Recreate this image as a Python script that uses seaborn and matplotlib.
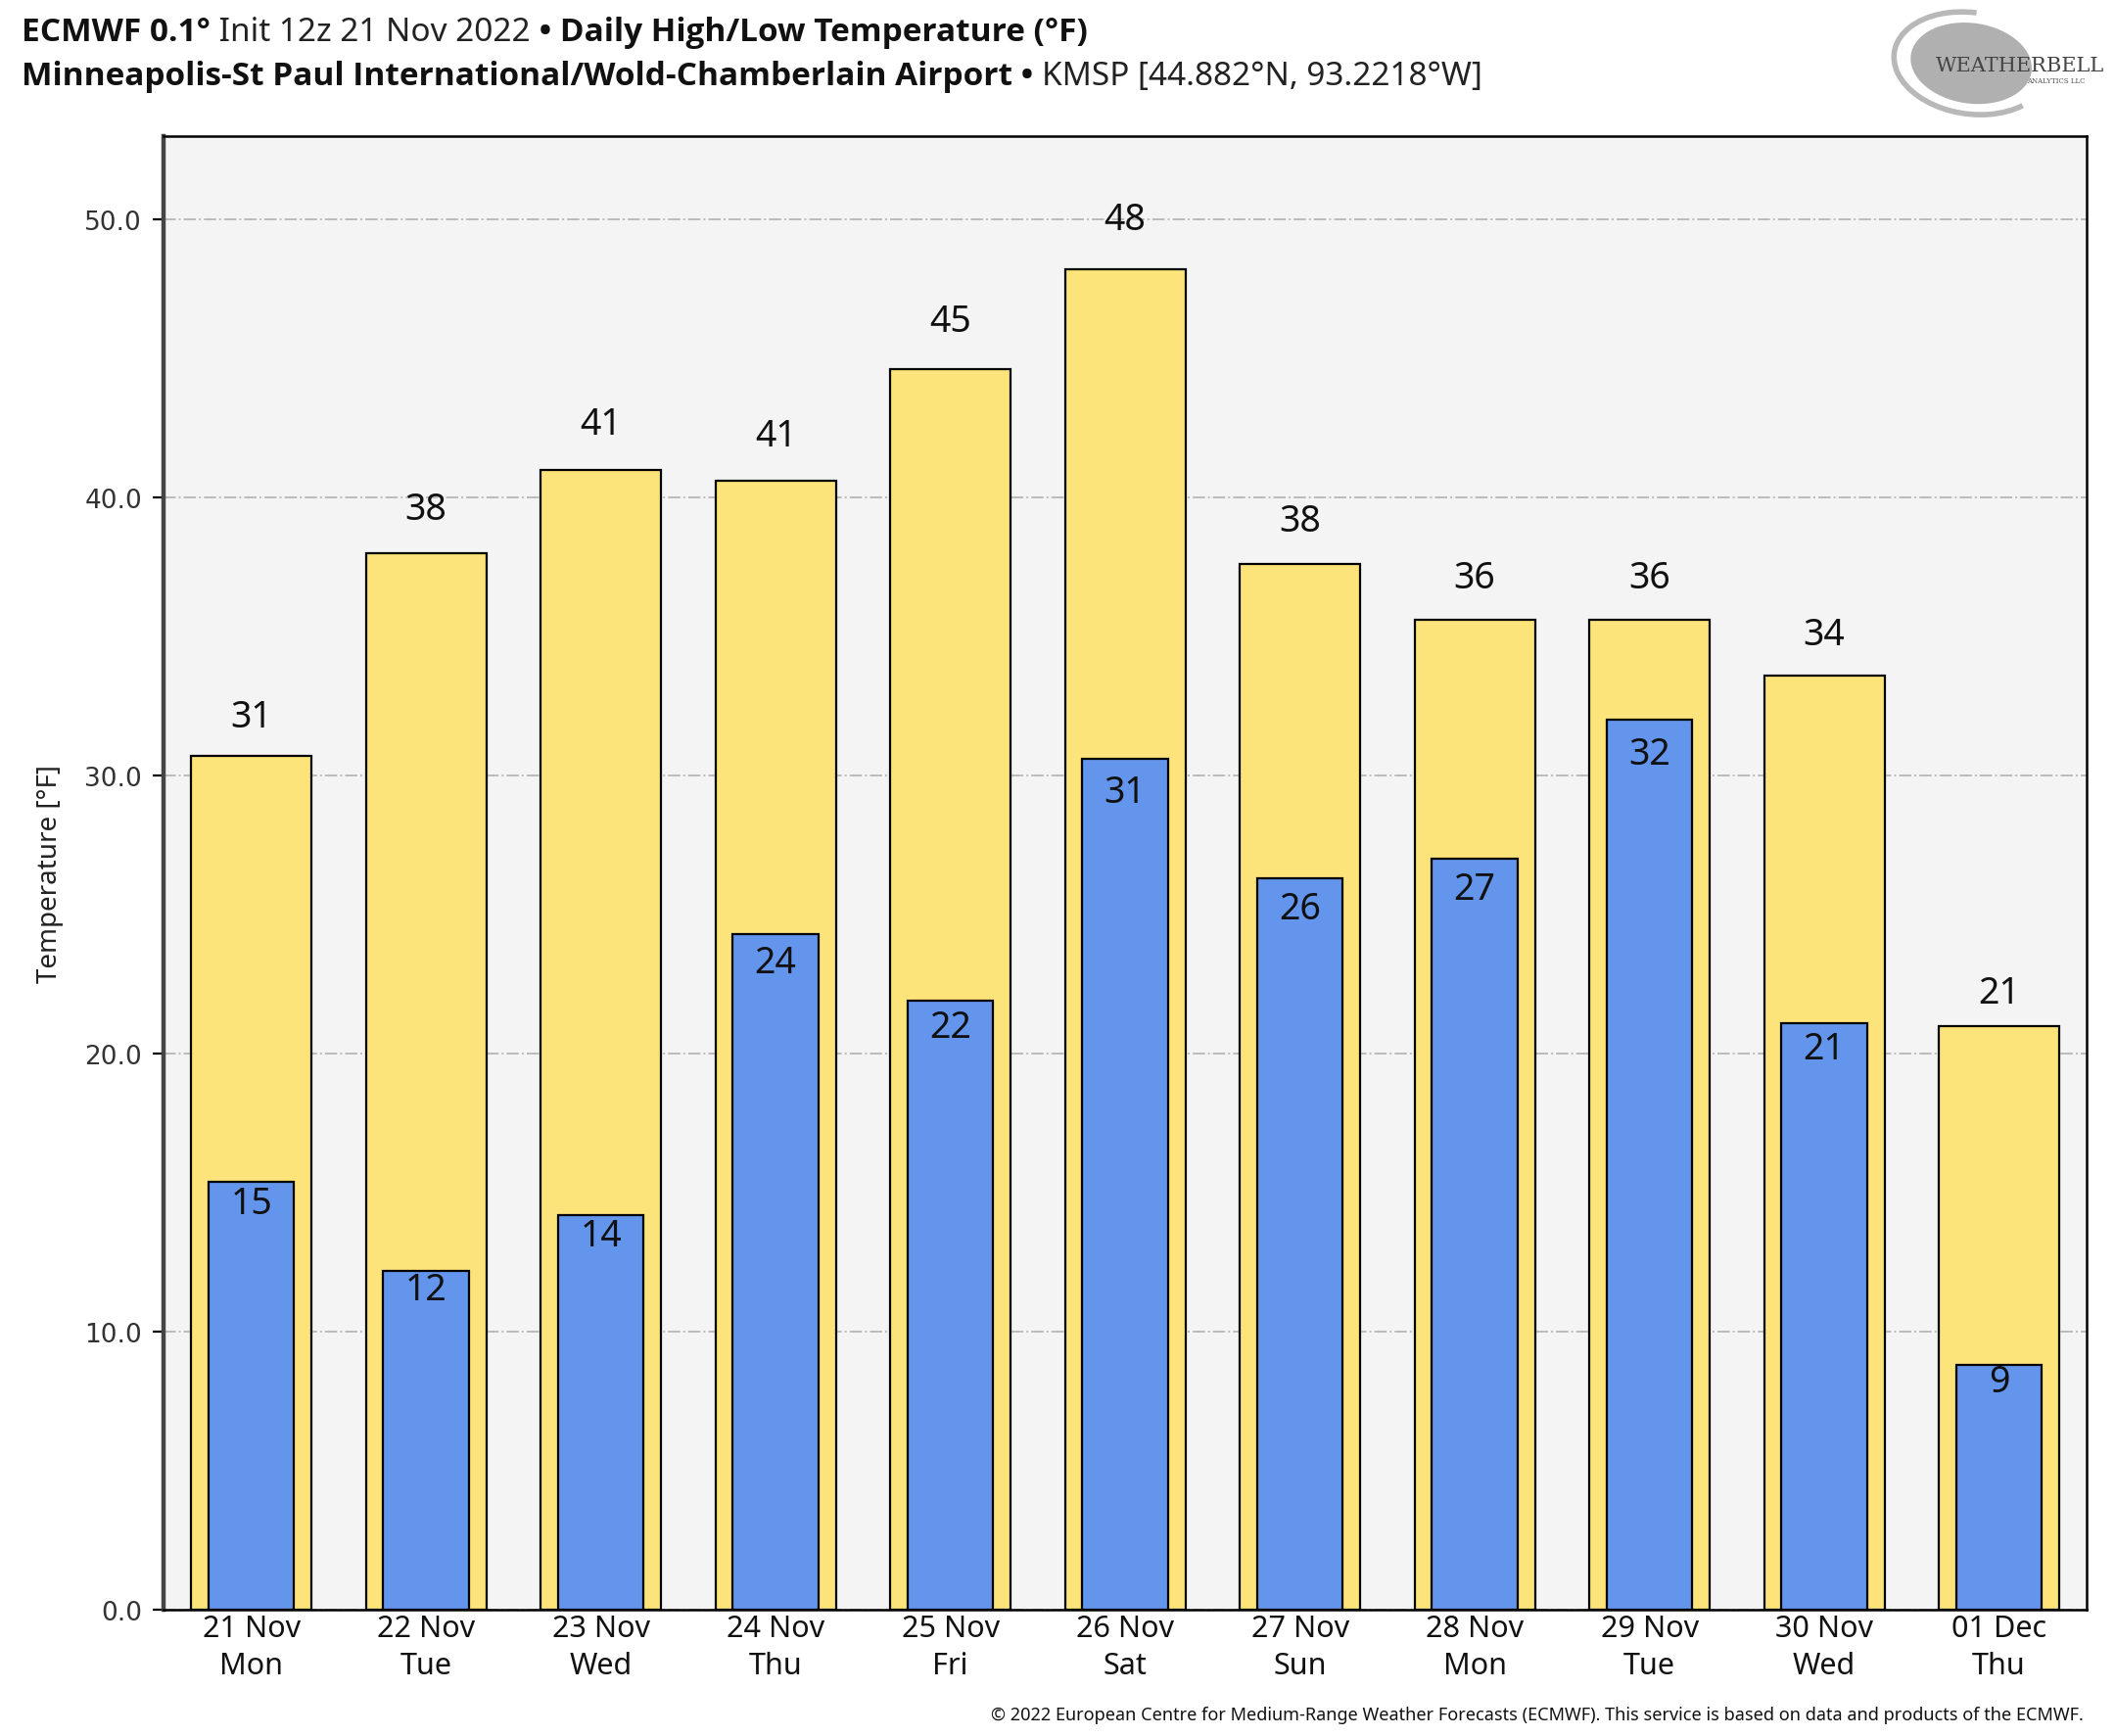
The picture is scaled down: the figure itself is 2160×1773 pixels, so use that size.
import matplotlib
matplotlib.use("Agg")
import matplotlib.pyplot as plt
from matplotlib import font_manager
from matplotlib.patches import Ellipse, Arc
import seaborn as sns
import pandas as pd

days = ["21 Nov\nMon", "22 Nov\nTue", "23 Nov\nWed", "24 Nov\nThu", "25 Nov\nFri",
        "26 Nov\nSat", "27 Nov\nSun", "28 Nov\nMon", "29 Nov\nTue", "30 Nov\nWed",
        "01 Dec\nThu"]
highs = [30.7, 38.0, 41.0, 40.6, 44.6, 48.2, 37.6, 35.6, 35.6, 33.6, 21.0]
lows = [15.4, 12.2, 14.2, 24.3, 21.9, 30.6, 26.3, 27.0, 32.0, 21.1, 8.8]
yticks = [0, 10, 20, 30, 40, 50]

HIGH_COLOR = "#FDE47A"
LOW_COLOR = "#6495ED"

df = pd.DataFrame({"day": days, "high": highs, "low": lows})

sns.set_theme(style="white")
plt.rcParams["font.family"] = ["Noto Sans", "DejaVu Sans"]

# pick a family that really has a bold face
bold_family = "DejaVu Sans"
for fam in ["Noto Sans", "Open Sans", "Lato", "Roboto", "Inter"]:
    found = False
    for f in font_manager.fontManager.ttflist:
        if f.name == fam and (f.weight in ("bold", 700) or str(f.weight) == "700"):
            found = True
            break
    if found:
        bold_family = fam
        break

fig = plt.figure(figsize=(10.8, 8.87), dpi=200)
ax = fig.add_axes([0.0775, 0.0726, 0.909, 0.8486])
ax.set_facecolor("#F4F4F4")

sns.barplot(data=df, x="day", y="high", order=days, color=HIGH_COLOR, width=0.69,
            edgecolor="black", linewidth=0.8, saturation=1, ax=ax, zorder=2)
sns.barplot(data=df, x="day", y="low", order=days, color=LOW_COLOR, width=0.49,
            edgecolor="black", linewidth=0.8, saturation=1, ax=ax, zorder=3)

for i, (h, l) in enumerate(zip(highs, lows)):
    ax.text(i, h * 1.022 + 0.74, f"{h:.0f}", ha="center", va="center",
            fontsize=13.5, color="#111111", zorder=5)
    ax.text(i, l * 0.973 - 0.36, f"{l:.0f}", ha="center", va="center",
            fontsize=13.5, color="#111111", zorder=5)

ax.set_xlim(-0.5, len(days) - 0.5)
ax.set_ylim(0, 53)
ax.set_yticks(yticks)
ax.set_yticklabels([f"{v:.1f}" for v in yticks], family="DejaVu Sans", fontsize=9.5,
                   color="#333333")
for lab in ax.get_xticklabels():
    lab.set_linespacing(1.35)
ax.grid(axis="y", color="#BBBBBB", linestyle="-.", linewidth=0.7, zorder=0)
ax.set_axisbelow(True)
ax.tick_params(axis="y", which="both", left=True, length=4, width=0.8, color="black", pad=4)
ax.tick_params(axis="x", bottom=False, length=0, labelsize=11, pad=1.5, labelcolor="#111111")
ax.set_xlabel("")
ax.set_ylabel("Temperature [°F]", fontsize=10, color="#222222")
ax.yaxis.set_label_coords(-0.052, 0.5)
for s in ax.spines.values():
    s.set_visible(True)
    s.set_color("black")
    s.set_linewidth(0.9)
ax.spines["left"].set_color("#444444")
ax.spines["left"].set_linewidth(1.6)

# title lines with mixed weights
renderer = fig.canvas.get_renderer()

def rich_line(x, y, pieces, size):
    for txt, weight, color in pieces:
        fam = bold_family if weight == "bold" else "Noto Sans"
        t = fig.text(x, y, txt, fontsize=size, fontweight=weight, color=color,
                     family=[fam, "DejaVu Sans"], ha="left", va="center")
        bb = t.get_window_extent(renderer)
        x = fig.transFigure.inverted().transform((bb.x1, bb.y0))[0]

rich_line(0.0103, 0.981, [("ECMWF 0.1°", "bold", "#111111"),
                          (" Init 12z 21 Nov 2022", "normal", "#222222"),
                          (" • Daily High/Low Temperature (°F)", "bold", "#111111")], 12)
rich_line(0.0103, 0.9555, [("Minneapolis-St Paul International/Wold-Chamberlain Airport", "bold", "#111111"),
                           (" • ", "bold", "#111111"),
                           ("KMSP [44.882°N, 93.2218°W]", "normal", "#222222")], 12)

fig.text(0.985, 0.0125, "© 2022 European Centre for Medium-Range Weather Forecasts (ECMWF). "
         "This service is based on data and products of the ECMWF.",
         ha="right", va="center", fontsize=6.5, color="#111111")

# logo
fig.patches.append(Ellipse((0.932, 0.963), 0.058, 0.046, angle=-15,
                           transform=fig.transFigure, facecolor="#A8A8A8",
                           edgecolor="none", alpha=0.9))
fig.patches.append(Arc((0.932, 0.963), 0.074, 0.058, angle=-15, theta1=100, theta2=330,
                       transform=fig.transFigure, edgecolor="#B8B8B8", linewidth=2))
fig.text(0.955, 0.962, "WEATHERBELL", ha="center", va="center", fontsize=7.5,
         family="DejaVu Serif", color="#444444")
fig.text(0.972, 0.953, "ANALYTICS LLC", ha="center", va="center", fontsize=2.5,
         family="DejaVu Serif", color="#555555")

fig.savefig("out.png", dpi=200, facecolor="white")
